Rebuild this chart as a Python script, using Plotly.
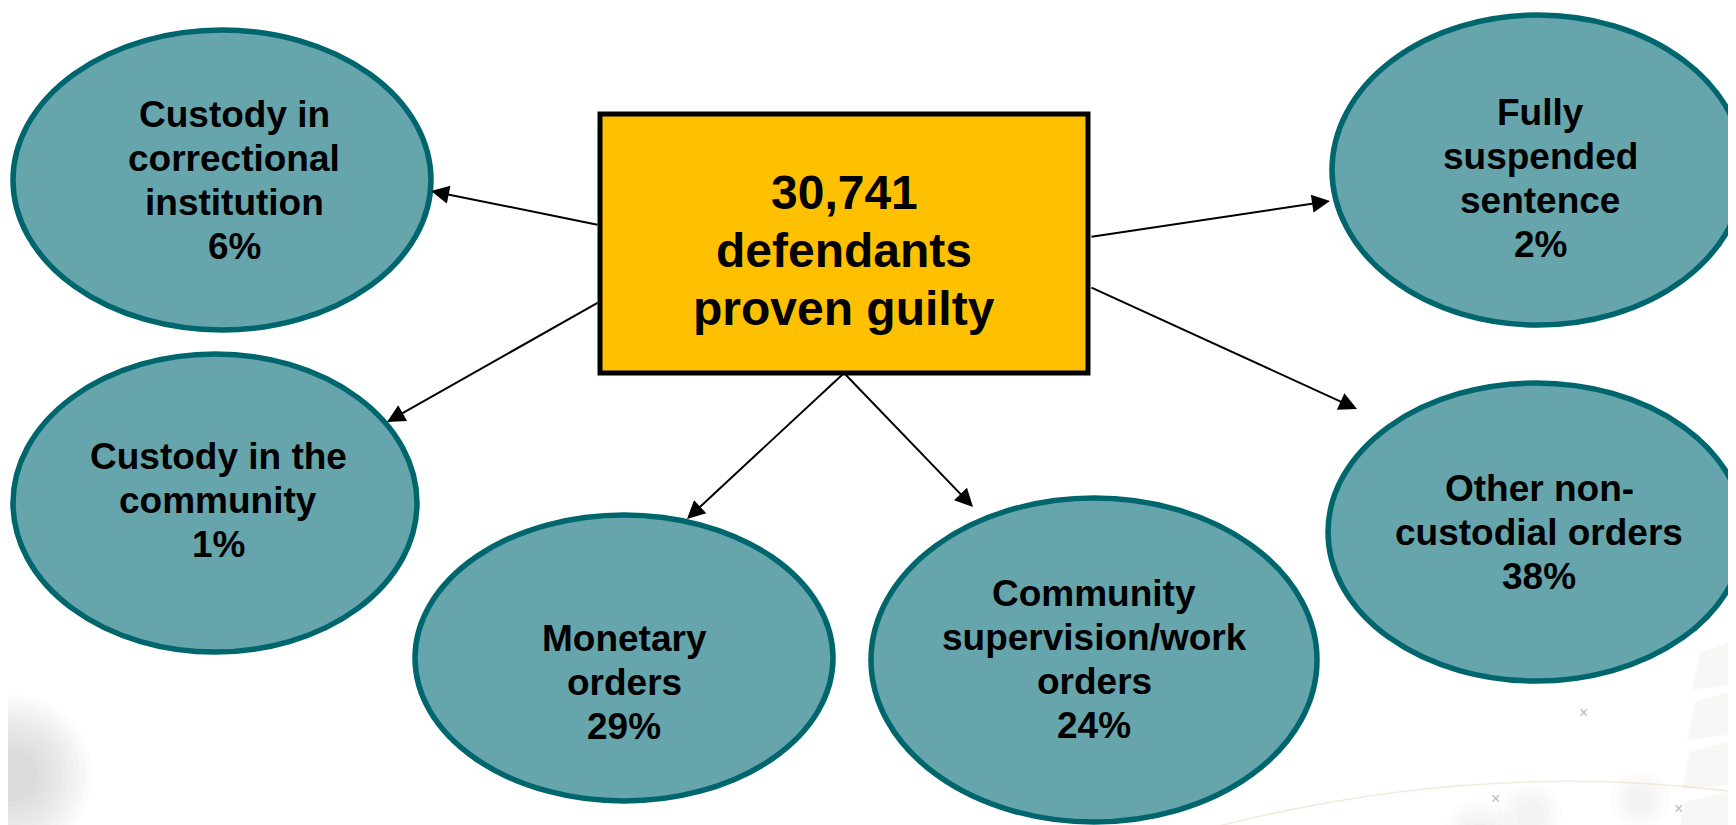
import plotly.graph_objects as go

# data
total_guilty = 30741
outcomes = [
    "Custody in correctional institution",
    "Custody in the community",
    "Monetary orders",
    "Community supervision/work orders",
    "Fully suspended sentence",
    "Other non-custodial orders",
]
outcome_lines = [
    ["Custody in", "correctional", "institution"],
    ["Custody in the", "community"],
    ["Monetary", "orders"],
    ["Community", "supervision/work", "orders"],
    ["Fully", "suspended", "sentence"],
    ["Other non-", "custodial orders"],
]
outcome_pct = [6, 1, 29, 24, 2, 38]

# layout of the diagram (page pixels, y down)
W, H = 1736, 825
OFF = 8  # the page body margin
ell_cx = [222, 215, 624, 1094, 1538, 1536]
ell_cy = [180, 503, 658, 660, 170, 532]
ell_rx = [209, 202, 209, 223, 206, 208]
ell_ry = [150, 149, 143, 162, 155, 149]
txt_x = [234, 218, 624, 1094, 1540, 1539]
txt_y = [180, 500, 682, 659, 178, 532]
LINE_H = 44

box = dict(x0=600, x1=1088, y0=114, y1=373)
box_txt = (844, 250)
BOX_LINE_H = 58

# arrow tails (on the box) and tips (on the ellipses)
arrow_tail = [(599, 225), (599, 302), (844, 373), (844, 373), (1090, 237), (1090, 287)]
arrow_tip = [(431, 191), (387, 422), (687, 519), (973, 507), (1330, 201), (1357, 409)]

FILL = "#67A5AC"
EDGE = "#00666E"
FONT = "Liberation Sans, Arial, sans-serif"

fig = go.Figure()
# invisible trace so the axes exist
fig.add_trace(go.Scatter(x=[OFF, W], y=[OFF, H], mode="markers",
                         marker=dict(opacity=0), hoverinfo="skip", showlegend=False))

shapes = []
# faint, blurry background decoration (many stacked translucent circles)
for r in range(80, 20, -6):
    shapes.append(dict(type="circle", xref="x", yref="y", x0=12 - r, x1=12 + r, y0=775 - r, y1=775 + r,
                       fillcolor="rgba(195,195,190,0.06)", line=dict(width=0), layer="below"))
for cx, cy, r0 in [(1530, 815, 32), (1640, 800, 30), (1480, 835, 36)]:
    for r in range(r0, 8, -6):
        shapes.append(dict(type="circle", xref="x", yref="y", x0=cx - r, x1=cx + r, y0=cy - r, y1=cy + r,
                           fillcolor="rgba(200,200,195,0.05)", line=dict(width=0), layer="below"))
shapes.append(dict(type="path", xref="x", yref="y",
                   path="M 1150,845 Q 1450,755 1736,792",
                   line=dict(color="rgba(235,220,195,0.6)", width=1.5), layer="below"))
for y0 in [640, 690, 740, 790]:
    shapes.append(dict(type="path", xref="x", yref="y",
                       path=f"M 1736,{y0} L {1700 - (y0 - 640) * 0.1},{y0 + 12} "
                            f"L {1692 - (y0 - 640) * 0.1},{y0 + 50} L 1736,{y0 + 44} Z",
                       fillcolor="rgba(205,205,200,0.16)", line=dict(width=0), layer="below"))

for cx, cy, rx, ry in zip(ell_cx, ell_cy, ell_rx, ell_ry):
    shapes.append(dict(type="circle", xref="x", yref="y",
                       x0=cx - rx, x1=cx + rx, y0=cy - ry, y1=cy + ry,
                       fillcolor=FILL, line=dict(color=EDGE, width=5.5), layer="below"))
shapes.append(dict(type="rect", xref="x", yref="y", **box,
                   fillcolor="#FFC000", line=dict(color="#000000", width=5), layer="below"))

annotations = []


def add_lines(lines, x, yc, step, size):
    n = len(lines)
    for i, s in enumerate(lines):
        y = yc + (i - (n - 1) / 2) * step
        annotations.append(dict(x=x, y=y, xref="x", yref="y", text=s, showarrow=False,
                                xanchor="center", yanchor="middle",
                                font=dict(family=FONT, size=size, color="black", weight="bold")))


for lines, pct, x, y in zip(outcome_lines, outcome_pct, txt_x, txt_y):
    add_lines(lines + [f"{pct}%"], x, y, LINE_H, 37)

add_lines([f"{total_guilty:,}", "defendants", "proven guilty"], box_txt[0], box_txt[1], BOX_LINE_H, 48)

# small grey crosses in the background
for x, y in [(1583, 712), (1495, 798), (1678, 808)]:
    annotations.append(dict(x=x, y=y, xref="x", yref="y", text="×", showarrow=False,
                            font=dict(family=FONT, size=16, color="#BBBBBB")))

for (ax, ay), (x, y) in zip(arrow_tail, arrow_tip):
    annotations.append(dict(x=x, y=y, ax=ax, ay=ay, xref="x", yref="y", axref="x", ayref="y",
                            text="", showarrow=True, arrowhead=2, arrowsize=1.8,
                            arrowwidth=2, arrowcolor="black", standoff=0, startstandoff=0))

fig.update_layout(
    width=W, height=H,
    margin=dict(l=0, r=0, t=0, b=0),
    paper_bgcolor="white", plot_bgcolor="white",
    xaxis=dict(range=[OFF, W + OFF], visible=False, fixedrange=True),
    yaxis=dict(range=[H + OFF, OFF], visible=False, fixedrange=True),
    shapes=shapes, annotations=annotations, showlegend=False,
)

fig.write_html("out.html", config={"displayModeBar": False})
